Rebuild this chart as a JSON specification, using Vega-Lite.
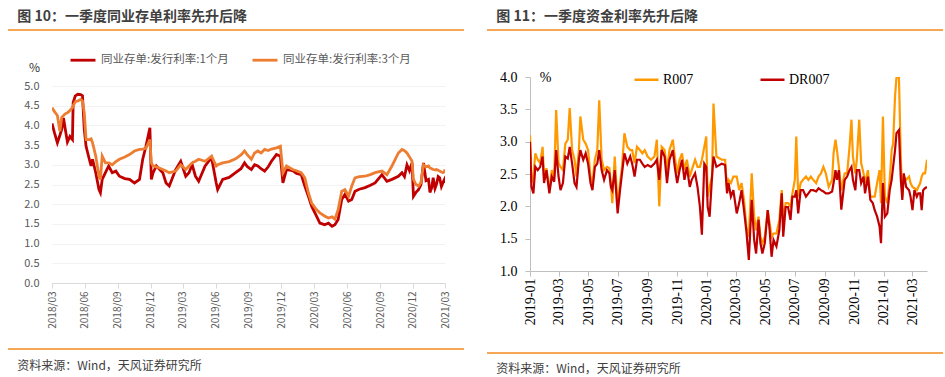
{
"$schema": "https://vega.github.io/schema/vega-lite/v6.json",
"background": "white",
"padding": {"left": 7, "top": 10, "right": 0, "bottom": 0},
"config": {"view": {"stroke": null}, "font": "Noto Sans CJK SC"},
"datasets": {
"one": [{"k": 1}],
"cd": [
{"d":"2018-03-01","a":4.05,"b":4.45},{"d":"2018-03-08","a":3.81,"b":4.35},{"d":"2018-03-16","a":3.56,"b":4.25},{"d":"2018-03-23","a":3.75,"b":3.85},{"d":"2018-03-28","a":3.90,"b":4.20},{"d":"2018-04-02","a":4.19,"b":4.25},{"d":"2018-04-08","a":3.85,"b":4.30},{"d":"2018-04-13","a":3.58,"b":4.32},{"d":"2018-04-20","a":3.72,"b":4.38},{"d":"2018-04-27","a":3.64,"b":4.45},{"d":"2018-04-29","a":4.58,"b":4.50},{"d":"2018-05-05","a":4.75,"b":4.60},{"d":"2018-05-12","a":4.79,"b":4.62},{"d":"2018-05-20","a":4.78,"b":4.66},{"d":"2018-05-25","a":4.75,"b":4.62},{"d":"2018-05-30","a":3.90,"b":4.32},{"d":"2018-06-04","a":3.47,"b":3.64},{"d":"2018-06-13","a":3.14,"b":3.64},{"d":"2018-06-18","a":2.97,"b":3.66},{"d":"2018-06-22","a":3.14,"b":3.56},{"d":"2018-07-01","a":2.80,"b":3.22},{"d":"2018-07-10","a":2.37,"b":2.71},{"d":"2018-07-14","a":2.29,"b":2.63},{"d":"2018-07-19","a":2.63,"b":3.22},{"d":"2018-07-28","a":2.80,"b":3.05},{"d":"2018-08-06","a":2.97,"b":3.05},{"d":"2018-08-16","a":2.80,"b":3.00},{"d":"2018-08-26","a":2.84,"b":3.08},{"d":"2018-09-05","a":2.71,"b":3.14},{"d":"2018-09-20","a":2.65,"b":3.20},{"d":"2018-10-03","a":2.63,"b":3.26},{"d":"2018-10-17","a":2.54,"b":3.35},{"d":"2018-10-31","a":2.63,"b":3.39},{"d":"2018-11-09","a":3.14,"b":3.40},{"d":"2018-11-18","a":3.47,"b":3.42},{"d":"2018-11-29","a":3.94,"b":3.64},{"d":"2018-12-03","a":2.63,"b":3.05},{"d":"2018-12-08","a":2.80,"b":2.97},{"d":"2018-12-17","a":2.97,"b":2.95},{"d":"2019-01-04","a":2.80,"b":2.88},{"d":"2019-01-13","a":2.54,"b":2.84},{"d":"2019-01-22","a":2.46,"b":2.80},{"d":"2019-02-09","a":2.88,"b":2.84},{"d":"2019-02-23","a":3.09,"b":3.00},{"d":"2019-03-09","a":2.71,"b":2.88},{"d":"2019-03-18","a":2.80,"b":2.97},{"d":"2019-03-27","a":3.00,"b":3.05},{"d":"2019-04-05","a":2.71,"b":3.09},{"d":"2019-04-14","a":2.58,"b":3.14},{"d":"2019-05-02","a":2.97,"b":3.09},{"d":"2019-05-20","a":3.18,"b":3.22},{"d":"2019-06-02","a":2.54,"b":2.97},{"d":"2019-06-06","a":2.37,"b":3.00},{"d":"2019-06-20","a":2.63,"b":3.05},{"d":"2019-07-08","a":2.68,"b":3.08},{"d":"2019-07-26","a":2.80,"b":3.15},{"d":"2019-08-10","a":2.90,"b":3.25},{"d":"2019-08-20","a":3.05,"b":3.35},{"d":"2019-08-28","a":2.95,"b":3.25},{"d":"2019-09-08","a":2.88,"b":3.14},{"d":"2019-09-17","a":3.00,"b":3.30},{"d":"2019-09-26","a":2.97,"b":3.35},{"d":"2019-10-05","a":2.90,"b":3.30},{"d":"2019-10-15","a":2.84,"b":3.39},{"d":"2019-10-25","a":2.95,"b":3.36},{"d":"2019-11-03","a":3.09,"b":3.40},{"d":"2019-11-17","a":3.26,"b":3.43},{"d":"2019-11-28","a":3.22,"b":3.47},{"d":"2019-12-05","a":2.54,"b":2.80},{"d":"2019-12-15","a":2.88,"b":2.97},{"d":"2020-01-01","a":2.85,"b":2.88},{"d":"2020-01-12","a":2.78,"b":2.85},{"d":"2020-01-25","a":2.75,"b":2.80},{"d":"2020-02-04","a":2.46,"b":2.67},{"d":"2020-02-14","a":2.20,"b":2.29},{"d":"2020-02-23","a":1.95,"b":2.03},{"d":"2020-03-08","a":1.69,"b":1.86},{"d":"2020-03-17","a":1.52,"b":1.78},{"d":"2020-03-30","a":1.48,"b":1.70},{"d":"2020-04-10","a":1.52,"b":1.65},{"d":"2020-04-20","a":1.44,"b":1.68},{"d":"2020-04-28","a":1.48,"b":1.62},{"d":"2020-05-07","a":1.61,"b":1.86},{"d":"2020-05-17","a":2.12,"b":2.33},{"d":"2020-05-26","a":2.25,"b":2.37},{"d":"2020-06-05","a":2.08,"b":2.20},{"d":"2020-06-14","a":2.12,"b":2.46},{"d":"2020-06-23","a":2.33,"b":2.67},{"d":"2020-07-05","a":2.38,"b":2.70},{"d":"2020-07-21","a":2.42,"b":2.71},{"d":"2020-08-05","a":2.48,"b":2.75},{"d":"2020-08-18","a":2.54,"b":2.80},{"d":"2020-09-06","a":2.75,"b":2.84},{"d":"2020-09-20","a":2.58,"b":2.75},{"d":"2020-10-04","a":2.63,"b":2.97},{"d":"2020-10-22","a":2.71,"b":3.30},{"d":"2020-11-01","a":2.80,"b":3.39},{"d":"2020-11-08","a":2.70,"b":3.36},{"d":"2020-11-15","a":3.00,"b":3.30},{"d":"2020-11-22","a":2.85,"b":3.20},{"d":"2020-11-29","a":3.05,"b":3.09},{"d":"2020-12-03","a":2.20,"b":2.63},{"d":"2020-12-10","a":2.30,"b":2.50},{"d":"2020-12-17","a":2.37,"b":2.46},{"d":"2020-12-24","a":2.50,"b":2.55},{"d":"2020-12-31","a":3.05,"b":3.00},{"d":"2021-01-07","a":2.60,"b":2.95},{"d":"2021-01-14","a":2.63,"b":2.97},{"d":"2021-01-18","a":2.30,"b":2.92},{"d":"2021-01-23","a":2.42,"b":2.90},{"d":"2021-01-27","a":2.67,"b":2.88},{"d":"2021-02-01","a":2.40,"b":2.87},{"d":"2021-02-05","a":2.50,"b":2.88},{"d":"2021-02-10","a":2.70,"b":2.86},{"d":"2021-02-14","a":2.67,"b":2.84},{"d":"2021-02-19","a":2.45,"b":2.82},{"d":"2021-02-23","a":2.54,"b":2.80},{"d":"2021-02-27","a":2.62,"b":2.82},{"d":"2021-03-01","a":2.54,"b":2.88}
],
"rr": [
{"d":"2019-01-01","r":3.10,"dr":3.00},{"d":"2019-01-04","r":2.36,"dr":2.30},{"d":"2019-01-08","r":2.46,"dr":2.20},{"d":"2019-01-12","r":2.82,"dr":2.61},{"d":"2019-01-17","r":2.72,"dr":2.56},{"d":"2019-01-22","r":2.67,"dr":2.61},{"d":"2019-01-27","r":2.92,"dr":2.77},{"d":"2019-01-30","r":2.46,"dr":2.36},{"d":"2019-02-04","r":2.59,"dr":2.56},{"d":"2019-02-10","r":2.25,"dr":2.20},{"d":"2019-02-15","r":2.56,"dr":2.46},{"d":"2019-02-20","r":2.46,"dr":2.38},{"d":"2019-02-24","r":3.49,"dr":2.87},{"d":"2019-03-01","r":2.67,"dr":2.46},{"d":"2019-03-05","r":2.61,"dr":2.25},{"d":"2019-03-10","r":2.56,"dr":2.36},{"d":"2019-03-15","r":2.97,"dr":2.77},{"d":"2019-03-20","r":3.03,"dr":2.74},{"d":"2019-03-24","r":3.52,"dr":2.92},{"d":"2019-03-29","r":2.87,"dr":2.66},{"d":"2019-04-03","r":2.72,"dr":2.36},{"d":"2019-04-07","r":2.46,"dr":2.30},{"d":"2019-04-12","r":2.87,"dr":2.72},{"d":"2019-04-15","r":3.39,"dr":2.87},{"d":"2019-04-21","r":3.03,"dr":2.72},{"d":"2019-04-26","r":2.97,"dr":2.82},{"d":"2019-05-01","r":2.87,"dr":2.66},{"d":"2019-05-06","r":2.46,"dr":2.36},{"d":"2019-05-10","r":2.36,"dr":2.25},{"d":"2019-05-15","r":2.72,"dr":2.61},{"d":"2019-05-20","r":2.87,"dr":2.66},{"d":"2019-05-24","r":3.64,"dr":2.87},{"d":"2019-05-29","r":2.72,"dr":2.56},{"d":"2019-06-03","r":2.56,"dr":2.41},{"d":"2019-06-09","r":2.61,"dr":2.56},{"d":"2019-06-14","r":2.59,"dr":2.51},{"d":"2019-06-17","r":2.36,"dr":2.30},{"d":"2019-06-20","r":2.05,"dr":2.25},{"d":"2019-06-25","r":2.77,"dr":2.56},{"d":"2019-07-01","r":2.00,"dr":1.89},{"d":"2019-07-06","r":2.36,"dr":2.25},{"d":"2019-07-10","r":2.61,"dr":2.51},{"d":"2019-07-15","r":3.13,"dr":2.82},{"d":"2019-07-21","r":2.92,"dr":2.66},{"d":"2019-07-27","r":2.87,"dr":2.77},{"d":"2019-07-31","r":2.87,"dr":2.66},{"d":"2019-08-05","r":2.67,"dr":2.46},{"d":"2019-08-10","r":2.92,"dr":2.72},{"d":"2019-08-16","r":2.87,"dr":2.72},{"d":"2019-08-21","r":2.82,"dr":2.66},{"d":"2019-08-26","r":2.87,"dr":2.61},{"d":"2019-09-01","r":2.77,"dr":2.64},{"d":"2019-09-08","r":2.72,"dr":2.61},{"d":"2019-09-15","r":2.77,"dr":2.66},{"d":"2019-09-20","r":3.03,"dr":2.72},{"d":"2019-09-25","r":2.00,"dr":2.41},{"d":"2019-09-30","r":2.92,"dr":2.87},{"d":"2019-10-06","r":2.87,"dr":2.77},{"d":"2019-10-11","r":2.56,"dr":2.36},{"d":"2019-10-16","r":2.87,"dr":2.72},{"d":"2019-10-23","r":3.03,"dr":2.87},{"d":"2019-10-27","r":2.77,"dr":2.61},{"d":"2019-11-01","r":2.51,"dr":2.36},{"d":"2019-11-06","r":2.72,"dr":2.56},{"d":"2019-11-11","r":2.82,"dr":2.72},{"d":"2019-11-16","r":2.56,"dr":2.41},{"d":"2019-11-21","r":2.72,"dr":2.61},{"d":"2019-11-27","r":2.46,"dr":2.30},{"d":"2019-12-01","r":2.56,"dr":2.41},{"d":"2019-12-08","r":2.72,"dr":2.51},{"d":"2019-12-13","r":2.61,"dr":2.30},{"d":"2019-12-18","r":2.61,"dr":1.99},{"d":"2019-12-22","r":2.72,"dr":1.56},{"d":"2019-12-27","r":2.92,"dr":2.66},{"d":"2019-12-31","r":3.08,"dr":2.61},{"d":"2020-01-03","r":2.15,"dr":1.99},{"d":"2020-01-07","r":2.30,"dr":1.84},{"d":"2020-01-12","r":2.46,"dr":2.46},{"d":"2020-01-15","r":3.59,"dr":2.77},{"d":"2020-01-21","r":2.77,"dr":2.61},{"d":"2020-02-01","r":2.72,"dr":2.66},{"d":"2020-02-08","r":2.72,"dr":2.64},{"d":"2020-02-12","r":2.25,"dr":2.20},{"d":"2020-02-15","r":2.41,"dr":2.36},{"d":"2020-02-20","r":2.36,"dr":2.15},{"d":"2020-02-25","r":2.46,"dr":2.25},{"d":"2020-03-03","r":2.46,"dr":1.89},{"d":"2020-03-08","r":2.25,"dr":2.05},{"d":"2020-03-13","r":2.36,"dr":2.25},{"d":"2020-03-18","r":2.10,"dr":1.94},{"d":"2020-03-23","r":1.69,"dr":1.61},{"d":"2020-03-28","r":1.53,"dr":1.17},{"d":"2020-04-03","r":2.51,"dr":2.10},{"d":"2020-04-08","r":1.84,"dr":1.48},{"d":"2020-04-12","r":1.63,"dr":1.27},{"d":"2020-04-17","r":1.84,"dr":1.79},{"d":"2020-04-21","r":1.53,"dr":1.43},{"d":"2020-04-25","r":1.43,"dr":1.27},{"d":"2020-04-30","r":1.53,"dr":1.43},{"d":"2020-05-06","r":1.94,"dr":1.94},{"d":"2020-05-10","r":1.74,"dr":1.63},{"d":"2020-05-14","r":1.53,"dr":1.22},{"d":"2020-05-18","r":1.58,"dr":1.48},{"d":"2020-05-24","r":1.58,"dr":1.38},{"d":"2020-05-30","r":1.79,"dr":1.63},{"d":"2020-06-04","r":2.25,"dr":2.20},{"d":"2020-06-07","r":1.74,"dr":1.53},{"d":"2020-06-12","r":2.05,"dr":1.99},{"d":"2020-06-17","r":2.05,"dr":1.99},{"d":"2020-06-22","r":2.00,"dr":1.79},{"d":"2020-06-26","r":2.20,"dr":2.15},{"d":"2020-07-01","r":2.41,"dr":2.15},{"d":"2020-07-04","r":3.08,"dr":2.25},{"d":"2020-07-08","r":2.15,"dr":1.89},{"d":"2020-07-13","r":2.36,"dr":2.25},{"d":"2020-07-18","r":2.41,"dr":2.25},{"d":"2020-07-24","r":2.46,"dr":2.15},{"d":"2020-07-29","r":2.41,"dr":2.20},{"d":"2020-08-03","r":2.46,"dr":2.25},{"d":"2020-08-08","r":2.41,"dr":2.25},{"d":"2020-08-14","r":2.36,"dr":2.23},{"d":"2020-08-19","r":2.46,"dr":2.28},{"d":"2020-08-24","r":2.51,"dr":2.25},{"d":"2020-08-29","r":2.61,"dr":2.23},{"d":"2020-09-03","r":2.51,"dr":2.20},{"d":"2020-09-09","r":2.30,"dr":2.20},{"d":"2020-09-16","r":2.41,"dr":2.23},{"d":"2020-09-19","r":2.82,"dr":2.36},{"d":"2020-09-23","r":3.03,"dr":2.56},{"d":"2020-09-26","r":2.87,"dr":2.41},{"d":"2020-09-30","r":2.61,"dr":2.56},{"d":"2020-10-05","r":2.25,"dr":1.95},{"d":"2020-10-12","r":2.51,"dr":2.41},{"d":"2020-10-17","r":2.51,"dr":2.46},{"d":"2020-10-22","r":2.92,"dr":2.56},{"d":"2020-10-26","r":3.34,"dr":2.61},{"d":"2020-10-29","r":2.77,"dr":2.41},{"d":"2020-11-03","r":2.51,"dr":2.25},{"d":"2020-11-06","r":2.72,"dr":2.56},{"d":"2020-11-11","r":3.34,"dr":2.56},{"d":"2020-11-15","r":2.67,"dr":2.36},{"d":"2020-11-20","r":2.51,"dr":2.46},{"d":"2020-11-23","r":2.36,"dr":2.20},{"d":"2020-11-29","r":2.56,"dr":2.46},{"d":"2020-12-04","r":2.15,"dr":2.10},{"d":"2020-12-09","r":2.15,"dr":2.05},{"d":"2020-12-13","r":2.15,"dr":1.94},{"d":"2020-12-18","r":2.36,"dr":1.84},{"d":"2020-12-23","r":2.56,"dr":1.69},{"d":"2020-12-26","r":2.05,"dr":1.43},{"d":"2020-12-30","r":3.39,"dr":2.36},{"d":"2021-01-03","r":2.15,"dr":1.84},{"d":"2021-01-08","r":2.05,"dr":1.89},{"d":"2021-01-13","r":2.41,"dr":2.25},{"d":"2021-01-17","r":2.87,"dr":2.41},{"d":"2021-01-20","r":2.97,"dr":2.61},{"d":"2021-01-24","r":3.70,"dr":2.87},{"d":"2021-01-27","r":4.00,"dr":3.13},{"d":"2021-02-01","r":4.00,"dr":3.18},{"d":"2021-02-05","r":2.72,"dr":2.41},{"d":"2021-02-08","r":2.15,"dr":2.10},{"d":"2021-02-11","r":2.46,"dr":2.51},{"d":"2021-02-16","r":2.41,"dr":2.30},{"d":"2021-02-22","r":2.46,"dr":2.25},{"d":"2021-02-25","r":2.36,"dr":2.15},{"d":"2021-03-01","r":2.30,"dr":1.94},{"d":"2021-03-05","r":2.28,"dr":2.25},{"d":"2021-03-10","r":2.25,"dr":2.15},{"d":"2021-03-13","r":2.30,"dr":2.20},{"d":"2021-03-17","r":2.36,"dr":2.20},{"d":"2021-03-20","r":2.46,"dr":1.94},{"d":"2021-03-23","r":2.51,"dr":2.25},{"d":"2021-03-27","r":2.51,"dr":2.28},{"d":"2021-03-31","r":2.72,"dr":2.30}
]
},
"spacing": 21,
"resolve": {"scale": {"color": "independent"}, "legend": {"color": "independent"}},
"hconcat": [
{
"spacing": 19,
"resolve": {"scale": {"color": "independent"}, "legend": {"color": "independent"}},
"vconcat": [
{
"spacing": 15,
"resolve": {"scale": {"color": "independent"}, "legend": {"color": "independent"}},
"vconcat": [
{
"width": 456, "height": 1,
"data": {"name": "one"},
"title": {"text": "图 10：一季度同业存单利率先升后降", "anchor": "start", "dx": 10, "offset": 5, "fontSize": 14, "fontWeight": "bold", "color": "#404040", "font": "Noto Sans CJK SC"},
"mark": {"type": "rule", "color": "#F28A1E", "strokeWidth": 1.5},
"encoding": {"y": {"field": "k", "type": "quantitative", "scale": {"domain": [0, 1]}, "axis": null}}
},
{
"spacing": 0,
"resolve": {"scale": {"color": "independent"}, "legend": {"color": "independent"}},
"hconcat": [
{
"width": 15, "height": 1,
"data": {"name": "one"},
"mark": {"type": "rule", "opacity": 0},
"encoding": {"y": {"field": "k", "type": "quantitative", "scale": {"domain": [0, 1]}, "axis": null}}
},
{
"width": 393, "height": 197,
"data": {"name": "cd"},
"encoding": {
"x": {"field": "d", "type": "temporal", "scale": {"domain": ["2018-03-01", "2021-03-01"]},
"axis": {"title": null, "format": "%Y/%m", "labelAngle": 270, "labelFontSize": 10, "labelColor": "#595959", "domainColor": "#d9d9d9", "tickColor": "#d9d9d9", "tickSize": 5, "labelPadding": 3, "grid": false,
"values": [{"year":2018,"month":3,"date":1},{"year":2018,"month":6,"date":1},{"year":2018,"month":9,"date":1},{"year":2018,"month":12,"date":1},{"year":2019,"month":3,"date":1},{"year":2019,"month":6,"date":1},{"year":2019,"month":9,"date":1},{"year":2019,"month":12,"date":1},{"year":2020,"month":3,"date":1},{"year":2020,"month":6,"date":1},{"year":2020,"month":9,"date":1},{"year":2020,"month":12,"date":1},{"year":2021,"month":3,"date":1}]}}
},
"layer": [
{
"mark": {"type": "line", "strokeWidth": 2.8, "clip": true},
"encoding": {
"y": {"field": "a", "type": "quantitative", "scale": {"domain": [0, 5]},
"axis": {"title": "%", "titleAngle": 0, "titleX": -18, "titleY": -19, "titleAlign": "center", "titleBaseline": "middle", "titleFontSize": 12, "titleFontWeight": "normal", "titleColor": "#333333", "format": ".1f", "values": [0,0.5,1,1.5,2,2.5,3,3.5,4,4.5,5], "labelFontSize": 11, "labelColor": "#595959", "domain": false, "ticks": false, "labelPadding": 13, "gridColor": "#f2f2f2"}},
"color": {"datum": "同业存单:发行利率:1个月", "type": "nominal",
"scale": {"domain": ["同业存单:发行利率:1个月", "同业存单:发行利率:3个月"], "range": ["#C00000", "#ED7D31"]},
"legend": {"title": null, "orient": "none", "legendX": 17, "legendY": -40, "direction": "horizontal", "symbolType": "stroke", "symbolSize": 625, "symbolStrokeWidth": 2.8, "labelFontSize": 11.5, "labelColor": "#595959", "columnPadding": 17, "labelOffset": 4, "padding": 0}}
}
},
{
"mark": {"type": "line", "strokeWidth": 2.8, "clip": true},
"encoding": {
"y": {"field": "b", "type": "quantitative", "scale": {"domain": [0, 5]},
"axis": {"title": "%", "titleAngle": 0, "titleX": -18, "titleY": -19, "titleAlign": "center", "titleBaseline": "middle", "titleFontSize": 12, "titleFontWeight": "normal", "titleColor": "#333333", "format": ".1f", "values": [0,0.5,1,1.5,2,2.5,3,3.5,4,4.5,5], "labelFontSize": 11, "labelColor": "#595959", "domain": false, "ticks": false, "labelPadding": 13, "gridColor": "#f2f2f2"}},
"color": {"datum": "同业存单:发行利率:3个月", "type": "nominal",
"scale": {"domain": ["同业存单:发行利率:1个月", "同业存单:发行利率:3个月"], "range": ["#C00000", "#ED7D31"]}}
}
}
]
}
]
}
]
},
{
"width": 456, "height": 1,
"data": {"name": "one"},
"title": {"text": "资料来源：Wind，天风证券研究所", "orient": "bottom", "anchor": "start", "dx": 10, "offset": 11, "fontSize": 12, "fontWeight": "normal", "color": "#404040", "font": "Noto Sans CJK SC"},
"mark": {"type": "rule", "color": "#F28A1E", "strokeWidth": 1.5},
"encoding": {"y": {"field": "k", "type": "quantitative", "scale": {"domain": [0, 1]}, "axis": null}}
}
]
},
{
"spacing": 27,
"resolve": {"scale": {"color": "independent"}, "legend": {"color": "independent"}},
"vconcat": [
{
"spacing": 35,
"resolve": {"scale": {"color": "independent"}, "legend": {"color": "independent"}},
"vconcat": [
{
"width": 456, "height": 1,
"data": {"name": "one"},
"title": {"text": "图 11：一季度资金利率先升后降", "anchor": "start", "dx": 10, "offset": 5, "fontSize": 14, "fontWeight": "bold", "color": "#404040", "font": "Noto Sans CJK SC"},
"mark": {"type": "rule", "color": "#F28A1E", "strokeWidth": 1.5},
"encoding": {"y": {"field": "k", "type": "quantitative", "scale": {"domain": [0, 1]}, "axis": null}}
},
{
"spacing": 0,
"resolve": {"scale": {"color": "independent"}, "legend": {"color": "independent"}},
"hconcat": [
{
"width": 12, "height": 1,
"data": {"name": "one"},
"mark": {"type": "rule", "opacity": 0},
"encoding": {"y": {"field": "k", "type": "quantitative", "scale": {"domain": [0, 1]}, "axis": null}}
},
{
"width": 397, "height": 194,
"data": {"name": "rr"},
"encoding": {
"x": {"field": "d", "type": "temporal", "scale": {"domain": ["2019-01-01", "2021-03-31"]},
"axis": {"title": null, "format": "%Y-%m", "labelAngle": 270, "labelFont": "Liberation Serif", "labelFontSize": 14, "labelColor": "#000000", "domainColor": "#bfbfbf", "tickColor": "#bfbfbf", "tickSize": 5, "labelPadding": 2, "grid": false,
"values": [{"year":2019,"month":1,"date":1},{"year":2019,"month":3,"date":1},{"year":2019,"month":5,"date":1},{"year":2019,"month":7,"date":1},{"year":2019,"month":9,"date":1},{"year":2019,"month":11,"date":1},{"year":2020,"month":1,"date":1},{"year":2020,"month":3,"date":1},{"year":2020,"month":5,"date":1},{"year":2020,"month":7,"date":1},{"year":2020,"month":9,"date":1},{"year":2020,"month":11,"date":1},{"year":2021,"month":1,"date":1},{"year":2021,"month":3,"date":1}]}}
},
"layer": [
{
"mark": {"type": "line", "strokeWidth": 2.2, "clip": true},
"encoding": {
"y": {"field": "r", "type": "quantitative", "scale": {"domain": [1, 4]},
"axis": {"title": "%", "titleAngle": 0, "titleX": 15, "titleY": 0, "titleAlign": "center", "titleBaseline": "middle", "titleFont": "Liberation Serif", "titleFontSize": 14, "titleFontWeight": "normal", "titleColor": "#000000", "format": ".1f", "values": [1,1.5,2,2.5,3,3.5,4], "labelFont": "Liberation Serif", "labelFontSize": 14, "labelColor": "#000000", "domainColor": "#bfbfbf", "tickColor": "#bfbfbf", "tickSize": 5, "labelPadding": 8, "grid": false}},
"color": {"datum": "R007", "type": "nominal",
"scale": {"domain": ["R007", "DR007"], "range": ["#FF9900", "#C00000"]},
"legend": {"title": null, "orient": "none", "legendX": 103, "legendY": -11, "direction": "horizontal", "symbolType": "stroke", "symbolSize": 576, "symbolStrokeWidth": 2.5, "labelFont": "Liberation Serif", "labelFontSize": 14, "labelColor": "#000000", "columnPadding": 61, "labelOffset": 3, "padding": 0}}
}
},
{
"mark": {"type": "line", "strokeWidth": 2.2, "clip": true},
"encoding": {
"y": {"field": "dr", "type": "quantitative", "scale": {"domain": [1, 4]},
"axis": {"title": "%", "titleAngle": 0, "titleX": 15, "titleY": 0, "titleAlign": "center", "titleBaseline": "middle", "titleFont": "Liberation Serif", "titleFontSize": 14, "titleFontWeight": "normal", "titleColor": "#000000", "format": ".1f", "values": [1,1.5,2,2.5,3,3.5,4], "labelFont": "Liberation Serif", "labelFontSize": 14, "labelColor": "#000000", "domainColor": "#bfbfbf", "tickColor": "#bfbfbf", "tickSize": 5, "labelPadding": 8, "grid": false}},
"color": {"datum": "DR007", "type": "nominal",
"scale": {"domain": ["R007", "DR007"], "range": ["#FF9900", "#C00000"]}}
}
}
]
}
]
}
]
},
{
"width": 456, "height": 1,
"data": {"name": "one"},
"title": {"text": "资料来源：Wind，天风证券研究所", "orient": "bottom", "anchor": "start", "dx": 10, "offset": 10, "fontSize": 12, "fontWeight": "normal", "color": "#404040", "font": "Noto Sans CJK SC"},
"mark": {"type": "rule", "color": "#F28A1E", "strokeWidth": 1.5},
"encoding": {"y": {"field": "k", "type": "quantitative", "scale": {"domain": [0, 1]}, "axis": null}}
}
]
}
]
}
